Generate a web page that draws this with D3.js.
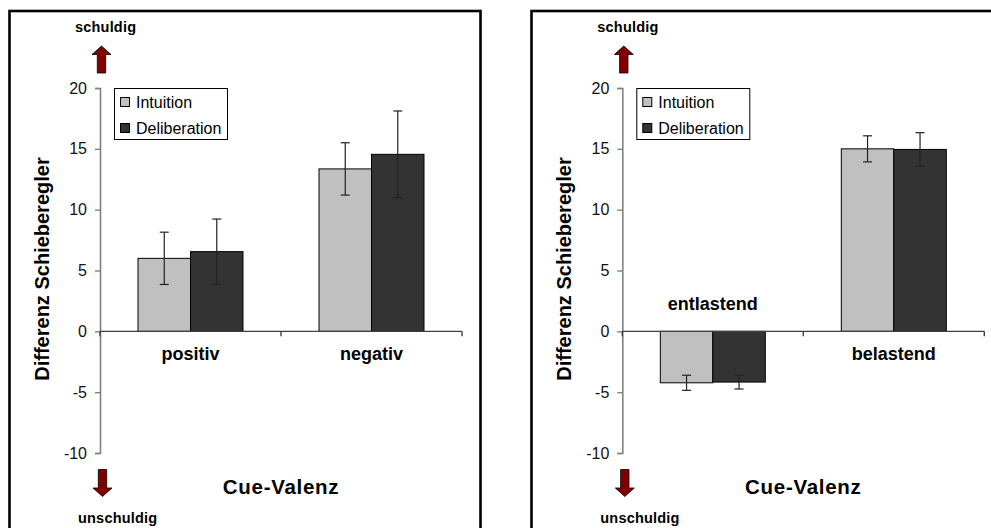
<!DOCTYPE html>
<html>
<head>
<meta charset="utf-8">
<script src="https://cdn.jsdelivr.net/npm/d3@7"></script>
<style>
  body { margin: 0; background: #fff; }
  svg { display: block; font-family: "Liberation Sans", Arial, sans-serif; }
</style>
</head>
<body>
<div id="chart"></div>
<script>
// data
const series = ["Intuition", "Deliberation"];
const seriesColors = ["#c0c0c0", "#333333"];
const yTicks = [-10, -5, 0, 5, 10, 15, 20];

const categoriesLeft = ["positiv", "negativ"];
const intuitionLeft = [6.0, 13.35];
const deliberationLeft = [6.55, 14.55];
const intuitionErrLeft = [2.15, 2.15];
const deliberationErrLeft = [2.68, 3.56];

const categoriesRight = ["entlastend", "belastend"];
const intuitionRight = [-4.23, 15.0];
const deliberationRight = [-4.17, 14.95];
const intuitionErrRight = [0.62, 1.07];
const deliberationErrRight = [0.57, 1.38];

const width = 991, height = 528;
const plotW = 362;

const svg = d3.select("#chart").append("svg")
  .attr("width", width)
  .attr("height", height);

const y = d3.scaleLinear().domain([-10, 20]).range([453, 88]);

function drawPanel(panelX, axisX, categories, intuition, deliberation, errI, errD) {
  // outer frame (clipped by the window on the right / bottom)
  svg.append("rect")
    .attr("x", panelX).attr("y", 11)
    .attr("width", 471).attr("height", 540)
    .attr("fill", "none")
    .attr("stroke", "#000")
    .attr("stroke-width", 2.6);

  const g = svg.append("g").attr("transform", "translate(" + axisX + ",0)");

  const x = d3.scaleBand().domain(categories).range([0, plotW]);
  const xs = d3.scaleBand().domain(series).range([0, x.bandwidth()])
    .paddingInner(0).paddingOuter(0.724);

  const rows = categories.map((c, i) => ({
    cat: c,
    vals: [
      { s: series[0], v: intuition[i], e: errI[i] },
      { s: series[1], v: deliberation[i], e: errD[i] }
    ]
  }));

  // bars
  const groups = g.selectAll(".grp")
    .data(rows)
    .enter()
    .append("g")
    .attr("transform", d => "translate(" + x(d.cat) + ",0)");

  groups.selectAll("rect")
    .data(d => d.vals)
    .enter()
    .append("rect")
    .attr("x", d => xs(d.s))
    .attr("y", d => y(Math.max(0, d.v)))
    .attr("width", xs.bandwidth())
    .attr("height", d => Math.abs(y(d.v) - y(0)))
    .attr("fill", (d, i) => seriesColors[i])
    .attr("stroke", "#000")
    .attr("stroke-width", 1);

  // error bars
  const eb = groups.selectAll(".err")
    .data(d => d.vals)
    .enter()
    .append("g")
    .attr("stroke", "#222")
    .attr("stroke-width", 1.2);
  eb.append("line")
    .attr("x1", d => xs(d.s) + xs.bandwidth() / 2)
    .attr("x2", d => xs(d.s) + xs.bandwidth() / 2)
    .attr("y1", d => y(d.v + d.e))
    .attr("y2", d => y(d.v - d.e));
  eb.selectAll(".cap")
    .data(d => [
      { cx: xs(d.s) + xs.bandwidth() / 2, yv: d.v + d.e },
      { cx: xs(d.s) + xs.bandwidth() / 2, yv: d.v - d.e }
    ])
    .enter()
    .append("line")
    .attr("x1", d => d.cx - 4.5)
    .attr("x2", d => d.cx + 4.5)
    .attr("y1", d => y(d.yv))
    .attr("y2", d => y(d.yv));

  // y axis
  const yAxis = g.append("g")
    .call(d3.axisLeft(y).tickValues(yTicks).tickSize(5).tickPadding(8)
      .tickFormat(d => String(d)));
  yAxis.select(".domain").attr("stroke", "#808080").attr("stroke-width", 1.6);
  yAxis.selectAll(".tick line").attr("stroke", "#808080").attr("stroke-width", 1.4);
  yAxis.selectAll("text")
    .attr("font-size", 16)
    .attr("fill", "#111")
    .attr("font-family", "'Liberation Sans', Arial, sans-serif");

  // x axis along zero
  g.append("line")
    .attr("x1", 0).attr("x2", plotW)
    .attr("y1", y(0)).attr("y2", y(0))
    .attr("stroke", "#404040")
    .attr("stroke-width", 1.4);
  g.selectAll(".xtick")
    .data([0, x.bandwidth(), plotW])
    .enter()
    .append("line")
    .attr("x1", d => d).attr("x2", d => d)
    .attr("y1", y(0)).attr("y2", y(0) + 5)
    .attr("stroke", "#404040")
    .attr("stroke-width", 1.4);

  // category labels: below the axis for positive bars, above for negative ones
  g.selectAll(".cat")
    .data(rows)
    .enter()
    .append("text")
    .attr("x", d => x(d.cat) + x.bandwidth() / 2)
    .attr("y", d => d.vals[0].v < 0 ? y(0) - 21 : y(0) + 29)
    .attr("text-anchor", "middle")
    .attr("font-size", 18)
    .attr("font-weight", "bold")
    .text(d => d.cat);

  // legend
  const lg = g.append("g").attr("transform", "translate(14,88)");
  lg.append("rect")
    .attr("x", 0.5).attr("y", 0.5)
    .attr("width", 113).attr("height", 51)
    .attr("fill", "#fff")
    .attr("stroke", "#000")
    .attr("stroke-width", 1);
  series.forEach((s, i) => {
    lg.append("rect")
      .attr("x", 6.5).attr("y", 9.5 + i * 26)
      .attr("width", 9).attr("height", 9)
      .attr("fill", seriesColors[i])
      .attr("stroke", "#000")
      .attr("stroke-width", 1);
    lg.append("text")
      .attr("x", 22).attr("y", 20 + i * 26)
      .attr("font-size", 16)
      .text(s);
  });

  // axis titles
  g.append("text")
    .attr("transform", "translate(" + (-51) + ",269) rotate(-90)")
    .attr("text-anchor", "middle")
    .attr("font-size", 20)
    .attr("font-weight", "bold")
    .text("Differenz Schieberegler");

  g.append("text")
    .attr("x", plotW / 2)
    .attr("y", 494)
    .attr("text-anchor", "middle")
    .attr("font-size", 20.5)
    .attr("font-weight", "bold")
    .attr("letter-spacing", 0.7)
    .text("Cue-Valenz");

  // schuldig / unschuldig arrows
  const upArrow = "M0,-13.5 L9.5,-5 L4.2,-5 L4.2,13.5 L-4.2,13.5 L-4.2,-5 L-9.5,-5 Z";
  g.append("path")
    .attr("d", upArrow)
    .attr("transform", "translate(1.5,59.5)")
    .attr("fill", "#800000")
    .attr("stroke", "#000")
    .attr("stroke-width", 0.8);
  g.append("path")
    .attr("d", upArrow)
    .attr("transform", "translate(2.5,483) rotate(180)")
    .attr("fill", "#800000")
    .attr("stroke", "#000")
    .attr("stroke-width", 0.8);

  g.append("text")
    .attr("x", -25).attr("y", 32)
    .attr("font-size", 14.5)
    .attr("font-weight", "bold")
    .attr("letter-spacing", 0.2)
    .text("schuldig");
  g.append("text")
    .attr("x", -22).attr("y", 523)
    .attr("font-size", 14.5)
    .attr("font-weight", "bold")
    .attr("letter-spacing", 0.2)
    .text("unschuldig");
}

drawPanel(9.5, 100, categoriesLeft, intuitionLeft, deliberationLeft, intuitionErrLeft, deliberationErrLeft);
drawPanel(531.5, 622.3, categoriesRight, intuitionRight, deliberationRight, intuitionErrRight, deliberationErrRight);
</script>
</body>
</html>
